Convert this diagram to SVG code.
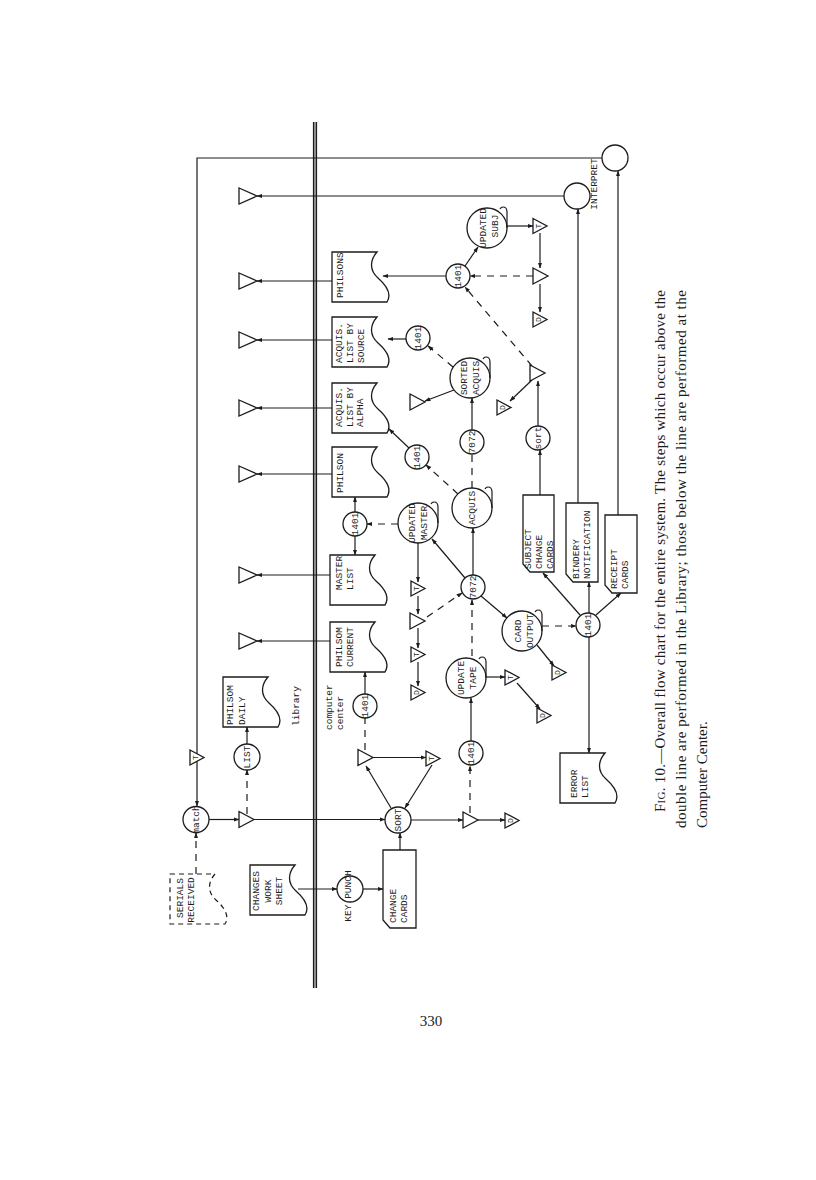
<svg xmlns="http://www.w3.org/2000/svg" width="816" height="1180" viewBox="0 0 816 1180">
<style>
.ln{fill:none;stroke:#1c1c1c;stroke-width:1.2}
.ar{marker-end:url(#ah)}
.da{stroke-dasharray:7 6}
.sh{fill:#fff;stroke:#1c1c1c;stroke-width:1.3}
.t{font-family:"Liberation Mono","DejaVu Sans Mono",monospace;font-size:9.5px;fill:#1c1c1c;dominant-baseline:central}
.m{text-anchor:middle}
.l{font-size:8px}
.cap{font-family:"Liberation Serif",serif;font-size:15px;fill:#1c1c1c;dominant-baseline:central}
</style>
<defs>
<marker id="ah" viewBox="0 0 10 10" refX="9" refY="5" markerWidth="6" markerHeight="6" orient="auto" markerUnits="userSpaceOnUse"><path d="M0,1.5 L10,5 L0,8.5 Z" fill="#1c1c1c"/></marker>
<path id="doc" d="M0,0 H45 C38,8 37,18 46,26 C54,33 60,42 55,50 H0 Z"/>
<path id="tri" d="M0,0 L18,8 L0,16 Z"/>
<path id="tr" d="M0,0 L15,8 L0,16 Z"/>
<path id="ts" d="M0,0 L14,7.5 L0,15 Z"/>
<path id="tail" d="M20,0 V-16 q0,-5 -4,-5 q-2,0 -3,2"/>
</defs>
<rect width="816" height="1180" fill="#fff"/>

<g id="divider">
<rect x="313" y="122" width="4" height="866" fill="#999"/>
<line x1="313.5" y1="122" x2="313.5" y2="988" class="ln"/>
<line x1="316.5" y1="122" x2="316.5" y2="988" class="ln"/>
</g>

<g id="connectors">
<path class="ln ar" d="M602,158 H197 V806"/>
<path class="ln ar" d="M564,196 H257"/>
<path class="ln ar" d="M332,281 H257"/>
<path class="ln ar" d="M332,340 H257"/>
<path class="ln ar" d="M332,408 H257"/>
<path class="ln ar" d="M332,474 H257"/>
<path class="ln ar" d="M330,575 H257"/>
<path class="ln ar" d="M330,641 H257"/>
<path class="ln ar" d="M355,512 V497"/>
<path class="ln ar" d="M355,536 V555"/>
<path class="ln da ar" d="M398,524 H367"/>
<path class="ln ar" d="M365,694 V672"/>
<path class="ln da" d="M365,750 V718"/>
<path class="ln ar" d="M373,757.5 H426"/>
<path class="ln ar" d="M432,765 L405,808"/>
<path class="ln ar" d="M391,808 L366,766"/>
<path class="ln ar" d="M209,819.5 H239"/>
<path class="ln ar" d="M254,819.5 H385"/>
<path class="ln da ar" d="M247,814 V770"/>
<path class="ln ar" d="M247,744 V727"/>
<path class="ln ar" d="M400,850 V833"/>
<path class="ln ar" d="M411,820 H463"/>
<path class="ln ar" d="M478,820 H505"/>
<path class="ln da ar" d="M470,813 V766"/>
<path class="ln ar" d="M471,741 V698"/>
<path class="ln da ar" d="M196,874 V833"/>
<path class="ln ar" d="M298,889 H337"/>
<path class="ln ar" d="M363,889 H383"/>
<path class="ln ar" d="M486,677 H505"/>
<path class="ln ar" d="M517,683 L540,709"/>
<path class="ln da ar" d="M472,656 V600"/>
<path class="ln ar" d="M473,575 V528"/>
<path class="ln ar" d="M465,578 L432,539"/>
<path class="ln ar" d="M481,596 L507,618"/>
<path class="ln da ar" d="M427,617 L462,593"/>
<path class="ln ar" d="M418,543 V582"/>
<path class="ln ar" d="M418,596 V614"/>
<path class="ln ar" d="M418,628 V648"/>
<path class="ln ar" d="M418,662 V686"/>
<path class="ln da" d="M472,488 V454"/>
<path class="ln da ar" d="M458,494 L426,465"/>
<path class="ln ar" d="M409,448 L389,429"/>
<path class="ln ar" d="M472,430 V398"/>
<path class="ln da ar" d="M453,367 L428,346"/>
<path class="ln ar" d="M454,390 L425,401"/>
<path class="ln ar" d="M406,339 H388"/>
<path class="ln ar" d="M446,276 H383"/>
<path class="ln ar" d="M465,266 L478,247"/>
<path class="ln da ar" d="M533,276 H470"/>
<path class="ln da ar" d="M532,366 L465,287"/>
<path class="ln ar" d="M507,226 H533"/>
<path class="ln ar" d="M540,233 V268"/>
<path class="ln ar" d="M540,284 V312"/>
<path class="ln ar" d="M538,426 V381"/>
<path class="ln ar" d="M532,380 L510,401"/>
<path class="ln ar" d="M540,495 V450"/>
<path class="ln da ar" d="M542,626 H576"/>
<path class="ln ar" d="M537,645 L554,666"/>
<path class="ln ar" d="M580,615 L543,573"/>
<path class="ln ar" d="M589,613 V582"/>
<path class="ln ar" d="M596,615 L621,593"/>
<path class="ln ar" d="M589,637 V753"/>
<path class="ln ar" d="M578,503 V209"/>
<path class="ln ar" d="M618,515 V171"/>
</g>

<g id="out-triangles">
<use href="#tri" x="239" y="188" class="sh"/>
<use href="#tri" x="239" y="273" class="sh"/>
<use href="#tri" x="239" y="332" class="sh"/>
<use href="#tri" x="239" y="400" class="sh"/>
<use href="#tri" x="239" y="466" class="sh"/>
<use href="#tri" x="239" y="567" class="sh"/>
<use href="#tri" x="239" y="633" class="sh"/>
</g>

<g id="n-interpret1"><circle cx="615" cy="158" r="13" class="sh"/></g>
<g id="n-interpret2"><circle cx="577" cy="196" r="13" class="sh"/>
<text class="t m" transform="translate(594,184) rotate(-90)">INTERPRET</text></g>

<g id="n-t-left"><use href="#ts" x="190" y="750" class="sh"/><text class="t m l" transform="translate(195,757.5) rotate(-90)">T</text></g>

<g id="n-serials"><use href="#doc" x="170" y="874" class="ln" style="stroke-dasharray:5 4"/>
<text class="t m" transform="translate(180,898) rotate(-90)">SERIALS</text>
<text class="t m" transform="translate(191,900) rotate(-90)">RECEIVED</text></g>

<g id="n-match"><circle cx="196" cy="819.5" r="13" class="sh"/><text class="t m" transform="translate(196,819.5) rotate(-90)">match</text></g>
<g id="n-triA"><use href="#tr" x="239" y="811.5" class="sh"/></g>
<g id="n-list"><circle cx="247" cy="757" r="13" class="sh"/><text class="t m" transform="translate(247,757) rotate(-90)">LIST</text></g>
<g id="n-daily"><use href="#doc" x="223" y="677" class="sh"/>
<text class="t" transform="translate(230,725) rotate(-90)">PHILSOM</text>
<text class="t" transform="translate(242,725) rotate(-90)">DAILY</text></g>

<g id="labels">
<text class="t m" transform="translate(296,706) rotate(-90)">library</text>
<text class="t" transform="translate(329,730) rotate(-90)">computer</text>
<text class="t" transform="translate(340,730) rotate(-90)">center</text>
</g>

<g id="n-changes"><use href="#doc" x="250" y="865" class="sh"/>
<text class="t m" transform="translate(256,891) rotate(-90)">CHANGES</text>
<text class="t m" transform="translate(268,891) rotate(-90)">WORK</text>
<text class="t m" transform="translate(279,891) rotate(-90)">SHEET</text></g>

<g id="n-keypunch"><circle cx="350" cy="889" r="13" class="sh"/><text class="t m" transform="translate(348,896) rotate(-90)">KEY PUNCH</text></g>

<g id="n-changecards"><path class="sh" d="M383,850 H416 V928 H390 L383,920 Z"/>
<text class="t" transform="translate(393,923) rotate(-90)">CHANGE</text>
<text class="t" transform="translate(404,923) rotate(-90)">CARDS</text></g>

<g id="n-sort"><circle cx="398" cy="820" r="13" class="sh"/><text class="t m" transform="translate(398,820) rotate(-90)">SORT</text></g>
<g id="n-triB"><use href="#tr" x="463" y="812" class="sh"/></g>
<g id="n-dB"><use href="#ts" x="505" y="813" class="sh"/><text class="t m l" transform="translate(510,820.5) rotate(-90)">D</text></g>
<g id="n-triC"><use href="#tr" x="358" y="749.5" class="sh"/></g>
<g id="n-tC"><use href="#ts" x="426" y="751" class="sh"/><text class="t m l" transform="translate(431,758.5) rotate(-90)">T</text></g>

<g id="n-1401a"><circle cx="365" cy="706" r="12" class="sh"/><text class="t m" transform="translate(365,706) rotate(-90)">1401</text></g>
<g id="n-current"><use href="#doc" x="330" y="622" class="sh"/>
<text class="t" transform="translate(339,667) rotate(-90)">PHILSOM</text>
<text class="t" transform="translate(350,667) rotate(-90)">CURRENT</text></g>
<g id="n-master"><use href="#doc" x="330" y="555" class="sh"/>
<text class="t" transform="translate(339,590) rotate(-90)">MASTER</text>
<text class="t" transform="translate(350,590) rotate(-90)">LIST</text></g>
<g id="n-1401b"><circle cx="355" cy="524" r="12" class="sh"/><text class="t m" transform="translate(355,524) rotate(-90)">1401</text></g>
<g id="n-philson"><use href="#doc" x="332" y="447" class="sh"/>
<text class="t" transform="translate(340,493) rotate(-90)">PHILSON</text></g>
<g id="n-alpha"><use href="#doc" x="332" y="383" class="sh"/>
<text class="t" transform="translate(339,427) rotate(-90)">ACQUIS.</text>
<text class="t" transform="translate(350,427) rotate(-90)">LIST BY</text>
<text class="t" transform="translate(360,427) rotate(-90)">ALPHA</text></g>
<g id="n-source"><use href="#doc" x="332" y="317" class="sh"/>
<text class="t" transform="translate(339,363) rotate(-90)">ACQUIS.</text>
<text class="t" transform="translate(350,363) rotate(-90)">LIST BY</text>
<text class="t" transform="translate(361,363) rotate(-90)">SOURCE</text></g>
<g id="n-philsons"><use href="#doc" x="332" y="252" class="sh"/>
<text class="t" transform="translate(340,298) rotate(-90)">PHILSONS</text></g>

<g id="n-updsubj"><circle cx="487" cy="228" r="20" class="sh"/><use href="#tail" x="487" y="228" class="ln"/>
<text class="t m" transform="translate(483,228) rotate(-90)">UPDATED</text>
<text class="t m" transform="translate(495,226) rotate(-90)">SUBJ</text></g>
<g id="n-1401c"><circle cx="458" cy="276" r="12" class="sh"/><text class="t m" transform="translate(458,276) rotate(-90)">1401</text></g>
<g id="n-tS"><use href="#ts" x="533" y="218.5" class="sh"/><text class="t m l" transform="translate(538,226) rotate(-90)">T</text></g>
<g id="n-triS"><use href="#tr" x="533" y="268" class="sh"/></g>
<g id="n-dS"><use href="#ts" x="533" y="312" class="sh"/><text class="t m l" transform="translate(538,319.5) rotate(-90)">D</text></g>

<g id="n-1401d"><circle cx="418" cy="338" r="12" class="sh"/><text class="t m" transform="translate(418,338) rotate(-90)">1401</text></g>
<g id="n-sorted"><circle cx="470" cy="378" r="20" class="sh"/><use href="#tail" x="470" y="378" class="ln"/>
<text class="t m" transform="translate(464,378) rotate(-90)">SORTED</text>
<text class="t m" transform="translate(476,378) rotate(-90)">ACQUIS</text></g>
<g id="n-triSA"><use href="#tr" x="410" y="394" class="sh"/></g>
<g id="n-triE"><use href="#tr" x="530" y="365" class="sh"/></g>
<g id="n-dE"><use href="#ts" x="497" y="400" class="sh"/><text class="t m l" transform="translate(502,407.5) rotate(-90)">D</text></g>
<g id="n-sortsmall"><circle cx="538" cy="438" r="12" class="sh"/><text class="t m" transform="translate(538,438) rotate(-90)">sort</text></g>
<g id="n-7072a"><circle cx="472" cy="442" r="12" class="sh"/><text class="t m" transform="translate(472,442) rotate(-90)">7072</text></g>
<g id="n-1401e"><circle cx="417" cy="457" r="12" class="sh"/><text class="t m" transform="translate(417,457) rotate(-90)">1401</text></g>
<g id="n-acquis"><circle cx="472" cy="508" r="20" class="sh"/><use href="#tail" x="472" y="508" class="ln"/>
<text class="t m" transform="translate(472,508) rotate(-90)">ACQUIS</text></g>
<g id="n-updmaster"><circle cx="418" cy="523" r="20" class="sh"/><use href="#tail" x="418" y="523" class="ln"/>
<text class="t m" transform="translate(412,523) rotate(-90)">UPDATED</text>
<text class="t m" transform="translate(424,523) rotate(-90)">MASTER</text></g>
<g id="n-7072b"><circle cx="473" cy="587" r="12" class="sh"/><text class="t m" transform="translate(473,587) rotate(-90)">7072</text></g>
<g id="n-tM1"><use href="#ts" x="411" y="581" class="sh"/><text class="t m l" transform="translate(416,588.5) rotate(-90)">T</text></g>
<g id="n-triF"><use href="#tr" x="410" y="613" class="sh"/></g>
<g id="n-tM2"><use href="#ts" x="411" y="647" class="sh"/><text class="t m l" transform="translate(416,654.5) rotate(-90)">T</text></g>
<g id="n-dM"><use href="#ts" x="411" y="685" class="sh"/><text class="t m l" transform="translate(416,692.5) rotate(-90)">D</text></g>

<g id="n-cardout"><circle cx="522" cy="631" r="20" class="sh"/><use href="#tail" x="522" y="631" class="ln"/>
<text class="t m" transform="translate(518,631) rotate(-90)">CARD</text>
<text class="t m" transform="translate(530,631) rotate(-90)">OUTPUT</text></g>
<g id="n-dCO"><use href="#ts" x="552" y="665" class="sh"/><text class="t m l" transform="translate(557,672.5) rotate(-90)">D</text></g>
<g id="n-1401f"><circle cx="588" cy="625" r="12" class="sh"/><text class="t m" transform="translate(588,625) rotate(-90)">1401</text></g>

<g id="n-updtape"><circle cx="466" cy="678" r="20" class="sh"/><use href="#tail" x="466" y="678" class="ln"/>
<text class="t m" transform="translate(461,678) rotate(-90)">UPDATE</text>
<text class="t m" transform="translate(473,678) rotate(-90)">TAPE</text></g>
<g id="n-tUT"><use href="#ts" x="505" y="670" class="sh"/><text class="t m l" transform="translate(510,677.5) rotate(-90)">T</text></g>
<g id="n-dUT"><use href="#ts" x="537" y="708" class="sh"/><text class="t m l" transform="translate(542,715.5) rotate(-90)">D</text></g>
<g id="n-1401g"><circle cx="471" cy="753" r="12" class="sh"/><text class="t m" transform="translate(471,753) rotate(-90)">1401</text></g>

<g id="n-subject"><path class="sh" d="M523,495 H554 V572 H530 L523,564 Z"/>
<text class="t" transform="translate(528,569) rotate(-90)">SUBJECT</text>
<text class="t" transform="translate(539,569) rotate(-90)">CHANGE</text>
<text class="t" transform="translate(550,569) rotate(-90)">CARDS</text></g>
<g id="n-bindery"><path class="sh" d="M566,503 H598 V582 H573 L566,574 Z"/>
<text class="t" transform="translate(576,579) rotate(-90)">BINDERY</text>
<text class="t" transform="translate(587,579) rotate(-90)">NOTIFICATION</text></g>
<g id="n-receipt"><path class="sh" d="M605,515 H637 V593 H612 L605,585 Z"/>
<text class="t" transform="translate(614,589) rotate(-90)">RECEIPT</text>
<text class="t" transform="translate(625,589) rotate(-90)">CARDS</text></g>
<g id="n-error"><use href="#doc" x="560" y="753" class="sh"/>
<text class="t" transform="translate(574,798) rotate(-90)">ERROR</text>
<text class="t" transform="translate(585,798) rotate(-90)">LIST</text></g>

<g id="caption">
<text class="cap" transform="translate(660,812) rotate(-90)" textLength="522" lengthAdjust="spacing"><tspan style="font-variant:small-caps">Fig.</tspan> 10.—Overall flow chart for the entire system. The steps which occur above the</text>
<text class="cap" transform="translate(681,828) rotate(-90)" textLength="538" lengthAdjust="spacing">double line are performed in the Library; those below the line are performed at the</text>
<text class="cap" transform="translate(702,828) rotate(-90)">Computer Center.</text>
</g>
<text x="431" y="1026" font-family="Liberation Serif, serif" font-size="15" text-anchor="middle" fill="#1c1c1c">330</text>
</svg>
